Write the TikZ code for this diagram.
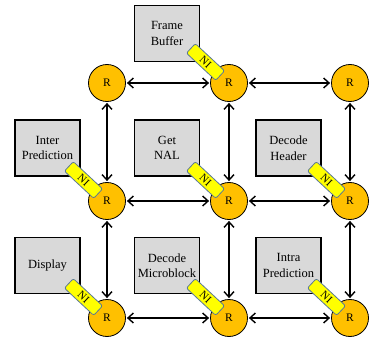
\documentclass[tikz,border=0pt]{standalone}
\usepackage{fontspec}
\setmainfont{Liberation Serif}
\usetikzlibrary{arrows.meta}
\definecolor{routerfill}{RGB}{255,192,0}
\definecolor{nifill}{RGB}{255,255,0}
\definecolor{niedge}{RGB}{90,120,150}
\definecolor{taskfill}{RGB}{217,217,217}
\tikzset{
  router/.style={circle, draw=black, line width=0.8pt, fill=routerfill,
    minimum size=37pt, inner sep=0pt, font=\fontsize{11.5}{12}\selectfont},
  taskbox/.style={rectangle, draw=black, line width=1.3pt, fill=taskfill,
    minimum width=65pt, minimum height=56pt, inner sep=1pt, align=center,
    font=\fontsize{12.5}{15.5}\selectfont},
  niface/.style={rectangle, rounded corners=2pt, draw=niedge, line width=0.8pt,
    fill=nifill, minimum width=40pt, minimum height=13pt, inner sep=0pt,
    rotate=-43, font=\fontsize{11}{11}\selectfont},
  link/.style={line width=1.4pt, {Straight Barb[length=5.5pt,width=10pt,line width=1.4pt]}-{Straight Barb[length=5.5pt,width=10pt,line width=1.4pt]}, shorten <=1pt, shorten >=1pt}
}
\begin{document}
\begin{tikzpicture}[x=1pt,y=-1pt]
\useasboundingbox (0,0) rectangle (370,337);

% task boxes
\node[taskbox] (fb)  at (167,33.5) {Frame\\Buffer};
\node[taskbox] (ip)  at (47.5,148) {Inter\\Prediction};
\node[taskbox] (gn)  at (167,148) {Get\\NAL};
\node[taskbox] (dh)  at (288.5,148) {Decode\\Header};
\node[taskbox] (dp)  at (47.5,265.5) {Display};
\node[taskbox] (dm)  at (167,265.5) {Decode\\Microblock};
\node[taskbox] (intra) at (288.5,265.5) {Intra\\Prediction};

% routers
\foreach \c/\x in {1/107,2/229,3/350}
  \foreach \r/\y in {1/83,2/201,3/318}
    \node[router] (r\r\c) at (\x,\y) {R};

% mesh links
\foreach \r in {1,2,3} {
  \draw[link] (r\r1) -- (r\r2);
  \draw[link] (r\r2) -- (r\r3);
}
\foreach \c in {1,2,3} {
  \draw[link] (r1\c) -- (r2\c);
  \draw[link] (r2\c) -- (r3\c);
}

% network interfaces
\foreach \r/\c in {1/2,2/1,2/2,2/3,3/1,3/2,3/3}
  \node[niface] (ni\r\c) at ([shift={(-23.5,-21)}]r\r\c.center) {NI};
\end{tikzpicture}
\end{document}
